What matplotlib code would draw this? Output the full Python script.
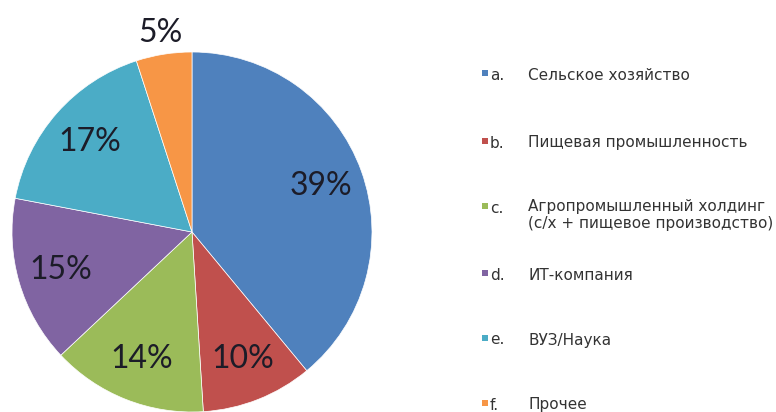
import numpy as np
import matplotlib.pyplot as plt

# Pie data (percent)
shares = [39, 10, 14, 15, 17, 5]
letters = ["a.", "b.", "c.", "d.", "e.", "f."]
names = ["Сельское хозяйство",
         "Пищевая промышленность",
         "Агропромышленный холдинг\n(с/х + пищевое производство)",
         "ИТ-компания",
         "ВУЗ/Наука",
         "Прочее"]
colors = ["#4F81BD", "#C0504D", "#9BBB59", "#8064A2", "#4BACC6", "#F79646"]

W, H = 776, 412
fig = plt.figure(figsize=(W / 100, H / 100), dpi=100)

# pie: centre (192, 232) px, radius 180 px
cx, cy, r = 192, 232, 180
ax = fig.add_axes([(cx - r) / W, (H - cy - r) / H, 2 * r / W, 2 * r / H])
wedges, texts, autotexts = ax.pie(
    shares, colors=colors, startangle=90, counterclock=False,
    autopct="%d%%", pctdistance=0.76,
    wedgeprops=dict(edgecolor="white", linewidth=0.5),
    textprops=dict(fontsize=23, color="#1c1c28", family=["Lato", "DejaVu Sans"]))
ax.set_xlim(-1, 1)
ax.set_ylim(-1, 1)
ax.set_aspect("equal")

# small slice label sits outside the pie
w = wedges[-1]
mid = np.deg2rad((w.theta1 + w.theta2) / 2)
autotexts[-1].set_position((1.12 * np.cos(mid), 1.12 * np.sin(mid)))
autotexts[-1].set_clip_on(False)

# legend on the right
leg = fig.add_axes([0, 0, 1, 1])
leg.set_xlim(0, W)
leg.set_ylim(H, 0)
leg.axis("off")
rows_y = [75, 143, 208, 275, 340, 405]
txt = dict(fontsize=11, color="#333333", ha="left")
for y, c, let, name in zip(rows_y, colors, letters, names):
    leg.scatter([485], [y - 2], marker="s", s=24, color=c, linewidths=0)
    leg.text(490, y, let, va="center", **txt)
    if "\n" in name:
        leg.text(528, y - 9, name, va="top", linespacing=1.2, **txt)
    else:
        leg.text(528, y, name, va="center", **txt)

fig.savefig("out.png", dpi=100, facecolor="white")
